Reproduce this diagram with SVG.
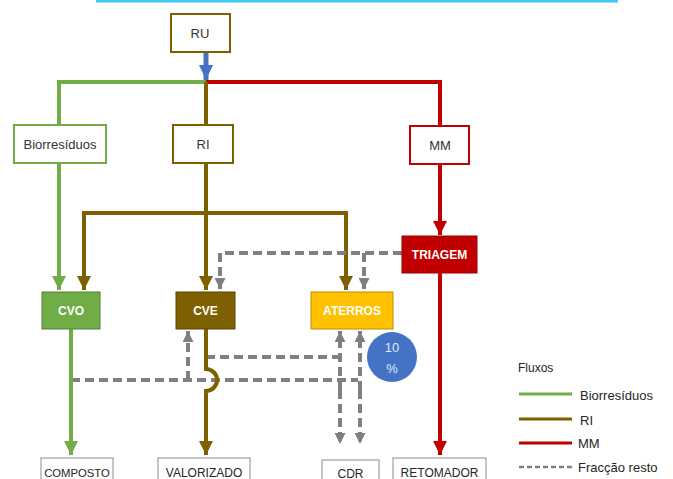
<svg xmlns="http://www.w3.org/2000/svg" width="673" height="479" viewBox="0 0 673 479">
<style>
text{font-family:"Liberation Sans",Arial,sans-serif;text-anchor:middle;dominant-baseline:central}
.lbl{font-size:13px;fill:#333333}
.wb{font-size:12px;fill:#ffffff;font-weight:bold}
.out{font-size:12px;fill:#262626}
.g{stroke:#70AD47;stroke-width:4;fill:none}
.b{stroke:#7F6000;stroke-width:4;fill:none}
.r{stroke:#C00000;stroke-width:4;fill:none}
.d{stroke:#7F7F7F;stroke-width:4;fill:none;stroke-dasharray:9,5}
.leg{font-size:13px;fill:#262626;text-anchor:start}
</style>
<defs>
<marker id="ag" markerUnits="userSpaceOnUse" markerWidth="14" markerHeight="14" viewBox="0 0 14 14" refX="14" refY="7" orient="auto"><path d="M0,0 L14,7 L0,14 Z" fill="#70AD47"/></marker>
<marker id="ab" markerUnits="userSpaceOnUse" markerWidth="14" markerHeight="14" viewBox="0 0 14 14" refX="14" refY="7" orient="auto"><path d="M0,0 L14,7 L0,14 Z" fill="#7F6000"/></marker>
<marker id="ar" markerUnits="userSpaceOnUse" markerWidth="14" markerHeight="14" viewBox="0 0 14 14" refX="14" refY="7" orient="auto"><path d="M0,0 L14,7 L0,14 Z" fill="#C00000"/></marker>
<marker id="au" markerUnits="userSpaceOnUse" markerWidth="15" markerHeight="14" viewBox="0 0 15 14" refX="15" refY="7" orient="auto"><path d="M0,0 L15,7 L0,14 Z" fill="#4472C4"/></marker>
<marker id="ad" markerUnits="userSpaceOnUse" markerWidth="11" markerHeight="11" viewBox="0 0 11 11" refX="11" refY="5.5" orient="auto"><path d="M0,0 L11,5.5 L0,11 Z" fill="#7F7F7F"/></marker>
</defs>
<rect width="673" height="479" fill="#ffffff"/>
<rect x="96" y="0" width="522" height="2.5" fill="#3FC8F5"/>

<g id="connectors">
<path class="g" d="M206,82 H59 V290" marker-end="url(#ag)"/>
<path class="r" d="M206,82 H440 V235" marker-end="url(#ar)"/>
<path class="b" d="M206,82 V290" marker-end="url(#ab)"/>
<path class="b" d="M206,213 H84 V290" marker-end="url(#ab)"/>
<path class="b" d="M206,213 H346 V290" marker-end="url(#ab)"/>
<path d="M206,52 V80" stroke="#4472C4" stroke-width="5" fill="none" marker-end="url(#au)"/>
<path class="d" d="M402,253 H220 V289" marker-end="url(#ad)"/>
<path class="d" d="M364,253 V289" marker-end="url(#ad)"/>
<path class="d" d="M71,380 H358"/>
<path class="d" d="M188,380 V331" marker-end="url(#ad)"/>
<path class="d" d="M206,357 H340"/>
<path class="d" d="M340,390 V331" marker-end="url(#ad)"/>
<path class="d" d="M340,390 V444" marker-end="url(#ad)"/>
<path class="d" d="M360,390 V331" marker-end="url(#ad)"/>
<path class="d" d="M360,390 V444" marker-end="url(#ad)"/>
<path class="g" d="M71,329 V455" marker-end="url(#ag)"/>
<path class="b" d="M206,329 V369 A11,11 0 0 1 206,391 V455" marker-end="url(#ab)"/>
<path class="r" d="M440,273 V455" marker-end="url(#ar)"/>
</g>

<g id="ru"><rect x="171" y="14" width="59" height="38" fill="#fff" stroke="#7F6000" stroke-width="2"/><text class="lbl" x="200" y="33">RU</text></g>
<g id="biorresiduos"><rect x="14" y="125" width="92" height="38" fill="#fff" stroke="#70AD47" stroke-width="2"/><text class="lbl" x="60" y="144">Biorresíduos</text></g>
<g id="ri"><rect x="173" y="125" width="60" height="38" fill="#fff" stroke="#7F6000" stroke-width="2"/><text class="lbl" x="203" y="144">RI</text></g>
<g id="mm"><rect x="410" y="126" width="59" height="38" fill="#fff" stroke="#C00000" stroke-width="2"/><text class="lbl" x="440" y="145">MM</text></g>
<g id="triagem"><rect x="402" y="236" width="75" height="37" fill="#C00000" stroke="#A00000" stroke-width="1"/><text class="wb" x="439.5" y="254.5">TRIAGEM</text></g>
<g id="cvo"><rect x="42" y="292" width="58" height="37" fill="#70AD47" stroke="#507E32" stroke-width="1"/><text class="wb" x="71" y="310.5">CVO</text></g>
<g id="cve"><rect x="176" y="292" width="59" height="37" fill="#7F6000" stroke="#5A4400" stroke-width="1"/><text class="wb" x="205.5" y="310.5">CVE</text></g>
<g id="aterros"><rect x="311" y="292" width="82" height="37" fill="#FFC000" stroke="#BF9000" stroke-width="1"/><text class="wb" x="352" y="310.5">ATERROS</text></g>
<g id="pct"><circle cx="392" cy="357" r="25" fill="#4472C4"/><text x="392" y="347" style="font-size:13px;fill:#DDEBF7">10</text><text x="392" y="368" style="font-size:13px;fill:#DDEBF7">%</text></g>
<g id="composto"><rect x="41" y="458" width="72" height="30" fill="#fff" stroke="#8C8C8C" stroke-width="1"/><text class="out" x="77" y="472.5" style="font-size:11.3px">COMPOSTO</text></g>
<g id="valorizado"><rect x="158" y="458" width="92" height="30" fill="#fff" stroke="#8C8C8C" stroke-width="1"/><text class="out" x="204" y="472.5">VALORIZADO</text></g>
<g id="cdr"><rect x="322" y="460" width="57" height="30" fill="#fff" stroke="#8C8C8C" stroke-width="1"/><text class="out" x="350.5" y="473.5">CDR</text></g>
<g id="retomador"><rect x="393" y="458" width="93" height="30" fill="#fff" stroke="#8C8C8C" stroke-width="1"/><text class="out" x="439.5" y="472.5">RETOMADOR</text></g>

<g id="legend">
<text class="leg" x="518" y="368" style="font-size:12px">Fluxos</text>
<line x1="519" y1="394" x2="572" y2="394" stroke="#70AD47" stroke-width="3"/>
<text class="leg" x="580" y="395">Biorresíduos</text>
<line x1="519" y1="419" x2="572" y2="419" stroke="#7F6000" stroke-width="3"/>
<text class="leg" x="580" y="420">RI</text>
<line x1="519" y1="443" x2="572" y2="443" stroke="#C00000" stroke-width="3"/>
<text class="leg" x="578" y="443">MM</text>
<line x1="519" y1="467" x2="574" y2="467" stroke="#7F7F7F" stroke-width="2.5" stroke-dasharray="5,3"/>
<text class="leg" x="578" y="467">Fracção resto</text>
</g>
</svg>
